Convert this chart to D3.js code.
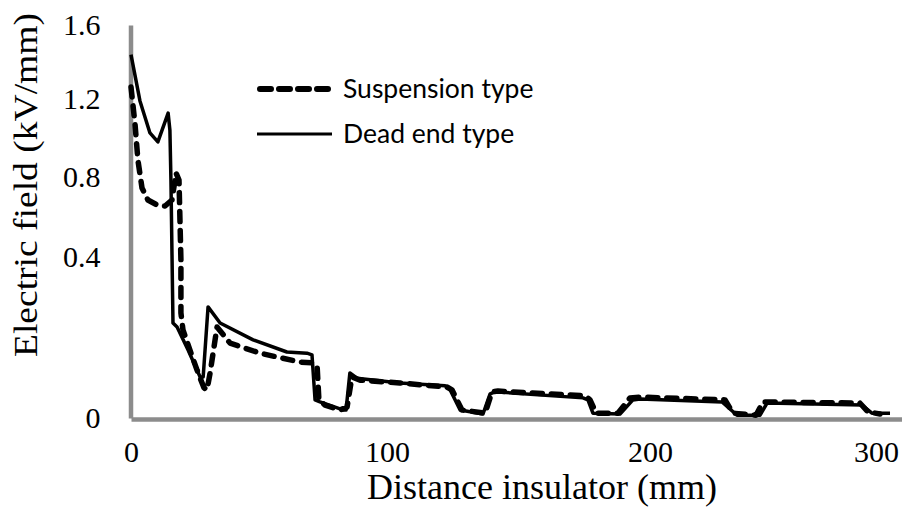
<!DOCTYPE html>
<html>
<head>
<meta charset="utf-8">
<script src="https://cdn.jsdelivr.net/npm/d3@7"></script>
<style>
  body { margin: 0; background: #fff; }
  svg { display: block; }
</style>
</head>
<body>
<div class="canvas"></div>
<script>
// tick labels
const xTicks = [0, 100, 200, 300];
const yTicks = [0, 0.4, 0.8, 1.2, 1.6];

// suspension type (dashed)
const distSus = [0, 1.6, 2.7, 4.3, 6.6, 10.2, 13.3, 16.0, 17.6, 18.75, 19.5, 19.5, 20.3, 23.0, 25.8, 28.5, 29.7, 30.9, 33.6, 38.7, 50.4, 66.0, 71.1, 72.7, 73.4, 75.8, 81.6, 84.4, 86.3, 89.5, 104.9, 122.8, 124.7, 128.5, 137.3, 139.9, 142.2, 175.3, 177.2, 179.5, 187.8, 192.4, 196.2, 233.2, 236.7, 246.9, 250.0, 292.9, 296.5, 301.8];
const fieldSus = [1.265, 1.067, 0.887, 0.745, 0.685, 0.66, 0.655, 0.685, 0.82, 0.785, 0.393, 0.261, 0.219, 0.169, 0.119, 0.075, 0.070, 0.112, 0.226, 0.186, 0.161, 0.139, 0.137, 0.129, 0.045, 0.032, 0.020, 0.027, 0.102, 0.094, 0.087, 0.077, 0.070, 0.020, 0.012, 0.065, 0.067, 0.055, 0.045, 0.012, 0.012, 0.050, 0.052, 0.045, 0.012, 0.007, 0.040, 0.037, 0.015, 0.010];

// dead end type (solid)
const distDead = [0, 3.5, 7.4, 10.5, 14.5, 15.2, 15.6, 16.4, 18.0, 22.3, 27.0, 28.2, 30.1, 34.8, 47.7, 60.9, 68.75, 70.7, 71.9, 73.8, 82.8, 84.0, 85.5, 88.3, 104.9, 122.1, 123.6, 127.8, 136.5, 139.2, 141.1, 174.5, 176.4, 178.3, 188.6, 193.5, 196.2, 231.9, 238.5, 248.7, 251.8, 293.8, 298.2, 306.2];
const fieldDead = [1.44, 1.19, 1.026, 0.98, 1.128, 1.04, 0.785, 0.236, 0.226, 0.169, 0.102, 0.102, 0.276, 0.236, 0.194, 0.164, 0.161, 0.157, 0.045, 0.040, 0.020, 0.020, 0.112, 0.099, 0.087, 0.080, 0.075, 0.020, 0.010, 0.060, 0.065, 0.050, 0.045, 0.012, 0.010, 0.045, 0.047, 0.040, 0.007, 0.007, 0.037, 0.032, 0.012, 0.012];

const width = 902, height = 511;
const serif = "'Liberation Serif', 'Times New Roman', serif";

const svg = d3.select(".canvas").append("svg")
    .attr("width", width)
    .attr("height", height);

// the picture's tick spacing is not even, so the scales are piecewise
const x = d3.scaleLinear()
    .domain([0, 100, 200, 300, 311.5])
    .range([131, 387, 650, 876, 902]);

const y = d3.scaleLinear()
    .domain([0, 0.4, 0.8, 1.2, 1.6])
    .range([418, 257, 177, 99, 25]);

const axisColor = "#8c8c8c";

const xAxisGroup = svg.append("g")
    .attr("transform", "translate(0, 419)")
    .call(d3.axisBottom(x).tickValues(xTicks).tickSize(0).tickPadding(22).tickFormat(d3.format("d")));

const yAxisGroup = svg.append("g")
    .attr("transform", "translate(130.5, 0)")
    .call(d3.axisLeft(y).tickValues(yTicks).tickSize(0).tickPadding(30)
        .tickFormat(d => d === 0 ? "0" : d3.format(".1f")(d)));

svg.selectAll(".domain")
    .attr("stroke", axisColor)
    .attr("stroke-width", 4.5);

svg.selectAll(".tick text")
    .attr("font-family", serif)
    .attr("font-size", 30)
    .attr("fill", "#000");

// axis labels
svg.append("text")
    .attr("x", 542)
    .attr("y", 499)
    .attr("text-anchor", "middle")
    .attr("font-family", serif)
    .attr("font-size", 36)
    .text("Distance insulator (mm)");

svg.append("text")
    .attr("transform", "translate(37, 185)rotate(-90)")
    .attr("text-anchor", "middle")
    .attr("font-family", serif)
    .attr("font-size", 34)
    .attr("textLength", 344)
    .attr("lengthAdjust", "spacingAndGlyphs")
    .text("Electric field (kV/mm)");

// lines
const lineSus = d3.line()
    .x((d, i) => x(distSus[i]))
    .y(d => y(d));

const lineDead = d3.line()
    .x((d, i) => x(distDead[i]))
    .y(d => y(d));

svg.append("path")
    .datum(fieldDead)
    .attr("fill", "none")
    .attr("stroke", "#000")
    .attr("stroke-width", 3.5)
    .attr("stroke-linejoin", "round")
    .attr("d", lineDead);

svg.append("path")
    .datum(fieldSus)
    .attr("fill", "none")
    .attr("stroke", "#000")
    .attr("stroke-width", 5.5)
    .attr("stroke-linecap", "round")
    .attr("stroke-linejoin", "round")
    .attr("stroke-dasharray", "10,9")
    .attr("d", lineSus);

// legend
const legend = svg.append("g");

legend.append("line")
    .attr("x1", 260).attr("x2", 331)
    .attr("y1", 89).attr("y2", 89)
    .attr("stroke", "#000")
    .attr("stroke-width", 6)
    .attr("stroke-linecap", "round")
    .attr("stroke-dasharray", "11,8");

legend.append("line")
    .attr("x1", 257).attr("x2", 332)
    .attr("y1", 134).attr("y2", 134)
    .attr("stroke", "#000")
    .attr("stroke-width", 3);

legend.selectAll("text.leg")
    .data(["Suspension type", "Dead end type"])
    .join("text")
    .attr("class", "leg")
    .attr("x", 343)
    .attr("y", (d, i) => 89 + i * 45)
    .attr("dy", "0.35em")
    .attr("font-family", "Lato, 'Noto Sans', sans-serif")
    .attr("font-size", 26.5)
    .attr("fill", "#000")
    .text(d => d);
</script>
</body>
</html>
